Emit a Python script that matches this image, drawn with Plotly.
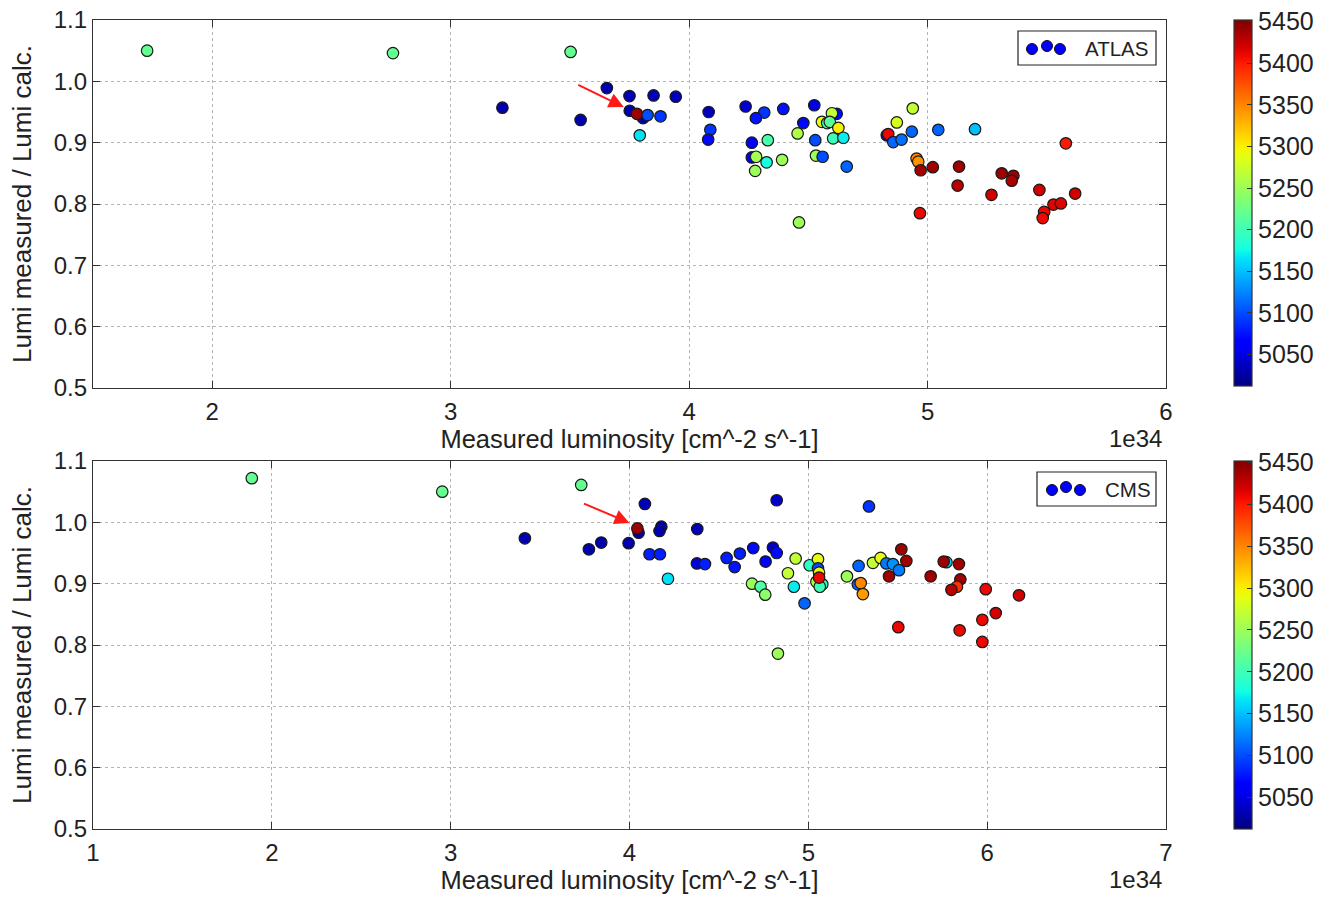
import numpy as np
import plotly.graph_objects as go

# ---------------- data ----------------
atlas_lumi = [1.727, 2.758, 3.503, 3.217, 3.545, 3.655, 3.750, 3.851, 3.944, 3.751,
              3.807, 3.781, 3.826, 3.880, 3.793, 4.082, 4.089, 4.080, 4.237, 4.315,
              4.280, 4.263, 4.330, 4.263, 4.281, 4.325, 4.277, 4.395, 4.525, 4.479,
              4.619, 4.599, 4.557, 4.579, 4.590, 4.626, 4.455, 4.529, 4.604, 4.647,
              4.390, 4.532, 4.560, 4.661, 4.461, 4.938, 4.871, 4.934, 4.829, 4.835,
              4.856, 4.891, 4.954, 4.961, 4.971, 5.022, 4.968, 5.045, 5.199, 5.580,
              5.132, 5.126, 5.268, 5.311, 5.360, 5.353, 5.469, 5.619, 5.528, 5.559,
              5.489, 5.483]
atlas_ratio = [1.050, 1.046, 1.048, 0.957, 0.937, 0.989, 0.976, 0.977, 0.975, 0.952,
               0.940, 0.947, 0.945, 0.943, 0.912, 0.950, 0.921, 0.905, 0.959, 0.949,
               0.940, 0.900, 0.904, 0.876, 0.877, 0.868, 0.854, 0.955, 0.961, 0.932,
               0.947, 0.948, 0.934, 0.932, 0.934, 0.924, 0.915, 0.904, 0.907, 0.908,
               0.872, 0.879, 0.877, 0.861, 0.770, 0.956, 0.933, 0.918, 0.912, 0.914,
               0.901, 0.905, 0.874, 0.869, 0.855, 0.860, 0.785, 0.921, 0.922, 0.899,
               0.861, 0.830, 0.815, 0.850, 0.846, 0.838, 0.823, 0.817, 0.799, 0.801,
               0.787, 0.777]
atlas_color = [5220, 5220, 5220, 5030, 5030, 5030, 5035, 5035, 5035, 5030,
               5030, 5440, 5100, 5090, 5165, 5035, 5090, 5070, 5045, 5090,
               5075, 5065, 5205, 5060, 5255, 5180, 5250, 5075, 5050, 5070,
               5070, 5270, 5290, 5200, 5215, 5300, 5260, 5100, 5200, 5170,
               5250, 5250, 5100, 5110, 5250, 5270, 5280, 5110, 5060, 5410,
               5110, 5115, 5350, 5345, 5440, 5440, 5410, 5110, 5150, 5400,
               5440, 5430, 5420, 5440, 5440, 5435, 5420, 5420, 5415, 5415,
               5410, 5410]

cms_lumi = [1.888, 2.953, 3.415, 3.730, 3.773, 3.842, 3.995, 4.086, 4.051, 4.044,
            4.178, 4.168, 4.379, 4.112, 4.170, 4.215, 4.377, 4.422, 4.543, 4.617,
            4.588, 4.692, 4.761, 4.802, 4.823, 4.823, 4.685, 4.733, 4.759, 4.830,
            4.886, 4.929, 4.919, 4.979, 5.007, 5.054, 5.054, 5.060, 5.045, 5.078,
            5.064, 5.060, 5.216, 5.281, 5.277, 5.293, 5.305, 5.361, 5.404, 5.436,
            5.473, 5.507, 5.451, 5.520, 5.548, 5.503, 5.684, 5.772, 5.757, 5.842,
            5.850, 5.831, 5.800, 5.992, 6.178, 6.048, 5.973, 5.846, 5.973, 5.339]
cms_ratio = [1.072, 1.050, 0.974, 1.061, 0.956, 0.967, 0.966, 1.030, 0.983, 0.990,
             0.993, 0.986, 0.989, 0.948, 0.948, 0.908, 0.933, 0.932, 0.942, 0.949,
             0.927, 0.958, 0.936, 0.959, 0.950, 1.036, 0.900, 0.895, 0.882, 0.786,
             0.917, 0.941, 0.895, 0.868, 0.930, 0.940, 0.925, 0.918, 0.903, 0.899,
             0.895, 0.910, 0.912, 0.929, 0.899, 0.901, 0.883, 0.934, 0.942, 0.933,
             0.932, 0.922, 0.912, 0.956, 0.937, 0.829, 0.912, 0.935, 0.936, 0.932,
             0.907, 0.895, 0.890, 0.891, 0.881, 0.852, 0.841, 0.824, 0.805, 1.026]
cms_color = [5220, 5220, 5030, 5220, 5030, 5030, 5030, 5035, 5030, 5440,
             5030, 5030, 5035, 5080, 5080, 5165, 5050, 5080, 5080, 5080,
             5075, 5070, 5065, 5040, 5070, 5040, 5250, 5210, 5240, 5250,
             5270, 5270, 5170, 5110, 5190, 5290, 5100, 5290, 5260, 5190,
             5200, 5410, 5250, 5110, 5110, 5350, 5340, 5270, 5290, 5120,
             5130, 5120, 5440, 5440, 5440, 5410, 5440, 5160, 5440, 5440,
             5440, 5390, 5430, 5410, 5420, 5420, 5410, 5410, 5410, 5090]

cbar_ticks = [5050, 5100, 5150, 5200, 5250, 5300, 5350, 5400, 5450]
cmin, cmax = 5012, 5452
top_xticks = [2, 3, 4, 5, 6]
bot_xticks = [1, 2, 3, 4, 5, 6, 7]
y_ticks = [0.5, 0.6, 0.7, 0.8, 0.9, 1.0, 1.1]

# ---------------- matplotlib "jet" colorscale ----------------
def jet_scale(n=41):
    t = np.linspace(0, 1, n)
    r = np.interp(t, [0, 0.35, 0.66, 0.89, 1], [0, 0, 1, 1, 0.5])
    g = np.interp(t, [0, 0.125, 0.375, 0.64, 0.91, 1], [0, 0, 1, 1, 0, 0])
    b = np.interp(t, [0, 0.11, 0.34, 0.65, 1], [0.5, 1, 1, 0, 0])
    return [[float(tt), f"rgb({int(rr*255)},{int(gg*255)},{int(bb*255)})"]
            for tt, rr, gg, bb in zip(t, r, g, b)]

JET = jet_scale()
FONT = "Liberation Sans, Arial, sans-serif"
W, H = 1322, 899
ML, MT = 93, 20
MR = W - 1166
MB = H - 829
PW, PH = W - ML - MR, H - MT - MB


def px2paper(px, py):
    """figure pixel -> paper coordinates"""
    return (px - ML) / PW, 1 - (py - MT) / PH


fig = go.Figure()
fig.add_trace(go.Scatter(
    x=atlas_lumi, y=atlas_ratio, mode="markers", name="ATLAS", showlegend=False,
    marker=dict(size=11.5, color=atlas_color, coloraxis="coloraxis",
                line=dict(color="#1a1a1a", width=1.2)),
    xaxis="x", yaxis="y"))
fig.add_trace(go.Scatter(
    x=cms_lumi, y=cms_ratio, mode="markers", name="CMS", showlegend=False,
    marker=dict(size=11.5, color=cms_color, coloraxis="coloraxis2",
                line=dict(color="#1a1a1a", width=1.2)),
    xaxis="x2", yaxis="y2"))

TICK_FS = 24
axis_common = dict(
    showline=True, linecolor="#333", linewidth=1.2, mirror="ticks",
    ticks="inside", ticklen=7, tickcolor="#333", automargin=False,
    ticklabeloverflow="allow",
    showgrid=True, gridcolor="#b5b5b5", griddash="dot", gridwidth=1,
    zeroline=False, tickfont=dict(family=FONT, size=TICK_FS, color="#222"),
)
xtitle_font = dict(family=FONT, size=25.5, color="#222")
ytitle_font = dict(family=FONT, size=26, color="#222")

top_dom = [1 - (388 - MT) / PH, 1.0]
bot_dom = [0.0, 1 - (461 - MT) / PH]

fig.update_layout(
    width=W, height=H, margin=dict(l=ML, r=MR, t=MT, b=MB, autoexpand=False),
    paper_bgcolor="white", plot_bgcolor="white",
    font=dict(family=FONT, color="#222"),
    xaxis=dict(axis_common, domain=[0, 1], range=[1.5, 6], tickvals=top_xticks,
               anchor="y", ticklabelstandoff=2,
               title=dict(text="Measured luminosity [cm^-2 s^-1]",
                          font=xtitle_font, standoff=3)),
    yaxis=dict(axis_common, domain=top_dom, range=[0.5, 1.1], tickvals=y_ticks,
               tickformat=".1f", anchor="x",
               title=dict(text="Lumi measured / Lumi calc.", font=ytitle_font,
                          standoff=14)),
    xaxis2=dict(axis_common, domain=[0, 1], range=[1, 7], tickvals=bot_xticks,
                anchor="y2", ticklabelstandoff=2,
                title=dict(text="Measured luminosity [cm^-2 s^-1]",
                           font=xtitle_font, standoff=3)),
    yaxis2=dict(axis_common, domain=bot_dom, range=[0.5, 1.1], tickvals=y_ticks,
                tickformat=".1f", anchor="x2",
                title=dict(text="Lumi measured / Lumi calc.", font=ytitle_font,
                           standoff=14)),
)

cb_x, _ = px2paper(1234, 0)
for name, top_px, bot_px in [("coloraxis", 20, 386), ("coloraxis2", 461, 829)]:
    _, ymid = px2paper(0, (top_px + bot_px) / 2)
    fig.update_layout({name: dict(
        colorscale=JET, cmin=cmin, cmax=cmax,
        colorbar=dict(x=cb_x, xanchor="left", xpad=0, y=ymid, yanchor="middle",
                      lenmode="pixels", len=bot_px - top_px, ypad=0,
                      thickness=18, outlinewidth=1.2, outlinecolor="#333",
                      tickvals=cbar_ticks, ticks="inside", ticklen=5,
                      tickcolor="#333", tickprefix="\u00a0\u00a0",
                      tickfont=dict(family=FONT, size=25, color="#222")))})

# exponent labels
for py in (438, 879):
    px, pyp = px2paper(1164, py)
    fig.add_annotation(x=px, y=pyp, xref="paper", yref="paper", text="1e34",
                       showarrow=False, xanchor="right", yanchor="middle",
                       font=dict(family=FONT, size=TICK_FS, color="#222"))

# red arrows
fig.add_annotation(x=3.726, y=0.958, xref="x", yref="y", ax=-47, ay=-23,
                   showarrow=True, arrowhead=2, arrowsize=1.5, arrowwidth=2,
                   arrowcolor="#ff1a1a", text="")
fig.add_annotation(x=4.0, y=0.999, xref="x2", yref="y2", ax=-47, ay=-20,
                   showarrow=True, arrowhead=2, arrowsize=1.5, arrowwidth=2,
                   arrowcolor="#ff1a1a", text="")

# legend boxes (matplotlib style with three scatter points)
legends = [("ATLAS", (1018, 31, 1156, 65), [(1032, 49), (1047, 46), (1060, 49)], 1083),
           ("CMS", (1037, 472, 1156, 506), [(1052, 490), (1066, 487), (1080, 490)], 1103)]
for label, (x0, y0, x1, y1), dots, tx in legends:
    a0, b0 = px2paper(x0, y0)
    a1, b1 = px2paper(x1, y1)
    fig.add_shape(type="rect", xref="paper", yref="paper", x0=a0, y0=b1, x1=a1, y1=b0,
                  line=dict(color="#222", width=1.2), fillcolor="white")
    for dx, dy in dots:
        cx, cy = px2paper(dx, dy)
        fig.add_shape(type="circle", xref="paper", yref="paper",
                      xsizemode="pixel", ysizemode="pixel", xanchor=cx, yanchor=cy,
                      x0=-5.5, x1=5.5, y0=-5.5, y1=5.5,
                      fillcolor="#0000ff", line=dict(color="#111", width=1))
    ax_, ay_ = px2paper(tx, (y0 + y1) / 2)
    fig.add_annotation(x=ax_, y=ay_, xref="paper", yref="paper", text=label,
                       showarrow=False, xanchor="left", yanchor="middle",
                       font=dict(family=FONT, size=20.5, color="#222"))

# remove the browser's default 8px page margin so the figure fills the window
fig.write_html("out.html",
               config={"displayModeBar": False},
               post_script="document.body.style.margin='0';"
                           "document.body.style.overflow='hidden';")
